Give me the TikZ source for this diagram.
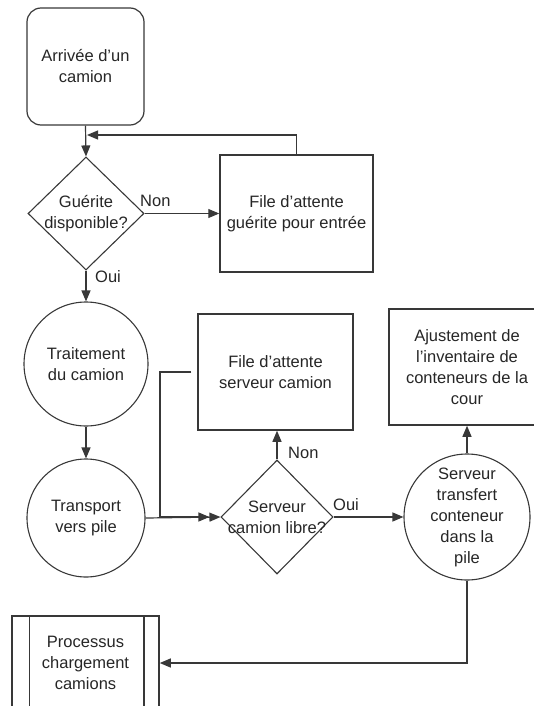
\documentclass[tikz,border=0pt]{standalone}
\usepackage{fontspec}
\setmainfont{Liberation Sans}
\usetikzlibrary{arrows.meta,shapes.geometric}
\begin{document}
\begin{tikzpicture}[x=1pt,y=-1pt,
  ln/.style={draw=black!78,line width=1.2pt},
  boxst/.style={ln,line width=1.5pt,rectangle,inner sep=0pt,align=center,text=black!85,
    font=\fontsize{16.5}{21}\selectfont},
  roundst/.style={boxst,line width=1.2pt,rounded corners=14pt},
  circst/.style={ln,line width=1.1pt,circle,inner sep=0pt},
  diast/.style={ln,line width=1.1pt,diamond,inner sep=0pt},
  txt/.style={align=center,text=black!85,inner sep=0pt,font=\fontsize{16.5}{21}\selectfont},
  lab/.style={anchor=west,inner sep=0pt,text=black!85,font=\fontsize{16.5}{21}\selectfont},
  arr/.style={ln,-{Triangle[length=11pt,width=9pt]}}]
\useasboundingbox (0,0) rectangle (533,706);

% process shapes
\node[roundst,minimum width=117pt,minimum height=117pt] (arr) at (85.5,66.5) {Arrivée d’un\\camion};
\node[diast,minimum width=116pt,minimum height=113pt,label={[txt]center:{Guérite\\disponible?}}] (d1) at (86,213.5) {};
\node[boxst,minimum width=153pt,minimum height=117pt] (q1) at (296.5,213.5) {File d’attente\\guérite pour entrée};
\node[circst,minimum size=124pt,label={[txt]center:{Traitement\\du camion}}] (c1) at (86,364) {};
\node[circst,minimum size=118pt,label={[txt]center:{Transport\\vers pile}}] (c2) at (86,518) {};
\node[boxst,minimum width=155pt,minimum height=116pt] (q2) at (275.5,372) {File d’attente\\serveur camion};
\node[diast,minimum width=112pt,minimum height=114pt,label={[txt]center:{Serveur\\camion libre?}}] (d2) at (277,517) {};
\node[circst,minimum size=126pt,label={[txt]center:{Serveur\\transfert\\conteneur\\dans la\\pile}}] (c3) at (467,517) {};
\node[boxst,minimum width=156pt,minimum height=116pt] (inv) at (467,367) {Ajustement de\\l’inventaire de\\conteneurs de la\\cour};
\node[boxst,minimum width=147pt,minimum height=94pt,label={[txt]center:{Processus\\chargement\\camions}}] (proc) at (85.5,663) {};
\draw[ln,line width=1.5pt] ([xshift=18pt]proc.north west) -- ([xshift=18pt]proc.south west);
\draw[ln,line width=1.5pt] ([xshift=-16pt]proc.north east) -- ([xshift=-16pt]proc.south east);

% connectors
\coordinate (j1) at (87,135);
\coordinate (k1) at (160,517);
\draw[arr] (arr.south) -- (d1.north);
\draw[arr] (d1.east) -- (q1.west);
\node[lab] (non1) at (140,201) {Non};
\draw[arr] (q1.north) |- (j1);
\draw[arr] (d1.south) -- (c1.north);
\node[lab] (oui1) at (95,277) {Oui};
\draw[arr] (c1.south) -- (c2.north);
\draw[arr] (c2.east) -- (d2.west);
\draw[arr,shorten <=6pt,shorten >=11pt] (q2.west) -| (k1) -- (d2.west);
\draw[arr] (d2.north) -- (d2.north |- q2.south);
\node[lab] (non2) at (288,453) {Non};
\draw[arr] (d2.east) -- (c3.west);
\node[lab] (oui2) at (333,505) {Oui};
\draw[arr] (c3.north) -- (inv.south);
\draw[arr] (c3.south) |- (proc.east);
\end{tikzpicture}
\end{document}
